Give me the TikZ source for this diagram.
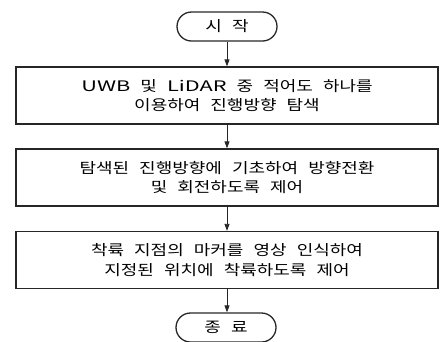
\documentclass[tikz,border=0pt]{standalone}
\usepackage{fontspec}
\setmainfont{Noto Sans CJK KR}[FakeStretch=1.24,WordSpace=2.5]
\newfontfamily\latwide{Noto Sans CJK KR}[FakeStretch=1.5,WordSpace=2.5]
\usetikzlibrary{arrows.meta}
\begin{document}
\begin{tikzpicture}[x=1pt,y=-1pt,
  box/.style={draw=black!85,line width=1.3pt,minimum width=422pt,minimum height=57pt,inner sep=0pt,align=center,font=\fontsize{14.5}{19.5}\selectfont},
  term/.style={draw=black!85,line width=1.3pt,minimum width=100pt,minimum height=29pt,rounded corners=14.5pt,inner sep=0pt,font=\fontsize{14.5}{17}\selectfont},
  arr/.style={draw=black!85,line width=0.8pt,-{Triangle[length=7pt,width=5pt]}}]
\useasboundingbox (0,0) rectangle (443,341);
\node[term] (s) at (227,26.5) {시 작};
\node[box] (b1) at (227,95.5) {{\latwide UWB} 및 {\latwide LiDAR} 중 적어도 하나를\\이용하여 진행방향 탐색};
\node[box] (b2) at (227,177.5) {탐색된 진행방향에 기초하여 방향전환\\및 회전하도록 제어};
\node[box] (b3) at (227,260) {착륙 지점의 마커를 영상 인식하여\\지정된 위치에 착륙하도록 제어};
\node[term] (e) at (226,327.5) {종 료};
\draw[arr] (s) -- (b1);
\draw[arr] (b1) -- (b2);
\draw[arr] (b2) -- (b3);
\draw[arr] (b3.south) -- (b3.south |- e.north);
\end{tikzpicture}
\end{document}
